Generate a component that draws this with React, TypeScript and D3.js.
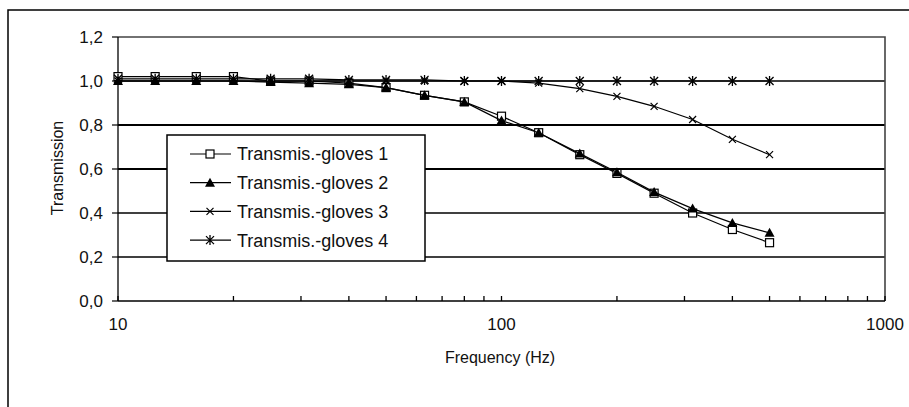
import React from 'react';
import * as d3 from 'd3';

// third-octave centre frequencies (Hz)
const freqs = [10, 12.5, 16, 20, 25, 31.5, 40, 50, 63, 80, 100, 125, 160, 200, 250, 315, 400, 500];

const gloves1 = [1.02, 1.02, 1.02, 1.02, 1.0, 1.0, 0.99, 0.97, 0.935, 0.905, 0.84, 0.765, 0.665, 0.58, 0.49, 0.4, 0.325, 0.265];
const gloves2 = [1.0, 1.0, 1.0, 1.0, 0.995, 0.99, 0.985, 0.97, 0.935, 0.905, 0.82, 0.765, 0.67, 0.585, 0.495, 0.42, 0.355, 0.31];
const gloves3 = [1.0, 1.0, 1.0, 1.0, 1.0, 1.0, 1.0, 1.0, 1.0, 1.0, 1.0, 0.99, 0.965, 0.93, 0.885, 0.825, 0.735, 0.665];
const gloves4 = [1.01, 1.01, 1.01, 1.01, 1.01, 1.01, 1.005, 1.005, 1.005, 1.0, 1.0, 1.0, 1.0, 1.0, 1.0, 1.0, 1.0, 1.0];

const seriesNames = ['Transmis.-gloves 1', 'Transmis.-gloves 2', 'Transmis.-gloves 3', 'Transmis.-gloves 4'];
const yTicks = [0, 0.2, 0.4, 0.6, 0.8, 1.0, 1.2];
const xLabels = [10, 100, 1000];

const W = 909;
const H = 407;
const FONT = '"Liberation Sans", Arial, sans-serif';

const Marker = ({ kind, x, y }: { kind: number; x: number; y: number }) => {
  if (kind === 0) {
    return <rect x={x - 4} y={y - 4} width={8} height={8} fill="#fff" stroke="#000" strokeWidth={1.2} />;
  }
  if (kind === 1) {
    return <path d={`M${x},${y - 5}L${x + 5},${y + 4}L${x - 5},${y + 4}Z`} fill="#000" />;
  }
  if (kind === 2) {
    return <path d={`M${x - 3.5},${y - 3.5}L${x + 3.5},${y + 3.5}M${x + 3.5},${y - 3.5}L${x - 3.5},${y + 3.5}`} stroke="#000" strokeWidth={1.2} />;
  }
  return (
    <path
      d={`M${x - 4},${y - 4}L${x + 4},${y + 4}M${x + 4},${y - 4}L${x - 4},${y + 4}M${x},${y - 5}L${x},${y + 5}`}
      stroke="#000"
      strokeWidth={1.3}
    />
  );
};

const App = () => {
  const left = 118;
  const right = 885;
  const top = 37;
  const bottom = 301;

  const x = d3.scaleLog().domain([10, 1000]).range([left, right]);
  const y = d3.scaleLinear().domain([0, 1.2]).range([bottom, top]);

  const all = [gloves1, gloves2, gloves3, gloves4];
  const line = d3
    .line<number>()
    .x((_, i) => x(freqs[i]))
    .y((d) => y(d));

  // minor ticks of the log axis
  const minor: number[] = [];
  [10, 100].forEach((dec) => {
    for (let k = 2; k <= 9; k++) minor.push(dec * k);
  });

  const legX = 167;
  const legY = 135;
  const rowH = 28.7;

  return (
    <svg width={W} height={H} style={{ position: 'absolute', left: 0, top: 0, background: '#fff' }}>
      {/* outer chart frame */}
      <rect x={8} y={10} width={W + 10} height={H + 10} fill="none" stroke="#000" strokeWidth={1.5} />

      {/* gridlines */}
      {yTicks.slice(1, -1).map((t) => (
        <line
          key={t}
          x1={left}
          x2={right}
          y1={y(t)}
          y2={y(t)}
          stroke="#000"
          strokeWidth={t === 0.6 || t === 0.8 ? 2 : 1.3}
        />
      ))}

      {/* plot area border top/right */}
      <path d={`M${left},${top}H${right}V${bottom}`} fill="none" stroke="#444" strokeWidth={1.6} />

      {/* axes */}
      <line x1={left} x2={left} y1={top} y2={bottom} stroke="#000" strokeWidth={1.3} />
      <line x1={left} x2={right} y1={bottom} y2={bottom} stroke="#000" strokeWidth={1.3} />

      {yTicks.map((t) => (
        <g key={t}>
          <line x1={left - 6} x2={left} y1={y(t)} y2={y(t)} stroke="#000" strokeWidth={1.2} />
          <text
            x={left - 15}
            y={y(t)}
            dy="0.36em"
            textAnchor="end"
            fontFamily={FONT}
            fontSize={17}
            fill="#111"
          >
            {d3.format('.1f')(t).replace('.', ',')}
          </text>
        </g>
      ))}

      {[...xLabels, ...minor].map((t) => (
        <line key={'xt' + t} x1={x(t)} x2={x(t)} y1={bottom} y2={bottom - 5} stroke="#000" strokeWidth={1.3} />
      ))}
      {xLabels.map((t) => (
        <text key={'xl' + t} x={x(t)} y={bottom + 29} textAnchor="middle" fontFamily={FONT} fontSize={17} fill="#111">
          {t}
        </text>
      ))}

      <text x={500} y={363} textAnchor="middle" fontFamily={FONT} fontSize={16} fill="#111">
        Frequency (Hz)
      </text>
      <text
        transform={`translate(63,168) rotate(-90)`}
        textAnchor="middle"
        fontFamily={FONT}
        fontSize={16}
        fill="#111"
      >
        Transmission
      </text>

      {/* series */}
      {all.map((s, si) => (
        <g key={si}>
          <path d={line(s) || ''} fill="none" stroke="#000" strokeWidth={1.2} />
          {s.map((v, i) => (
            <Marker key={i} kind={si} x={x(freqs[i])} y={y(v)} />
          ))}
        </g>
      ))}

      {/* legend */}
      <rect x={legX} y={legY} width={258} height={126} fill="#fff" stroke="#000" strokeWidth={1.5} />
      {seriesNames.map((n, i) => {
        const cy = legY + 19 + i * rowH;
        return (
          <g key={n}>
            <line x1={legX + 23} x2={legX + 64} y1={cy} y2={cy} stroke="#000" strokeWidth={1.2} />
            <Marker kind={i} x={legX + 43} y={cy} />
            <text x={legX + 70} y={cy} dy="0.36em" fontFamily={FONT} fontSize={18} fill="#111">
              {n}
            </text>
          </g>
        );
      })}
    </svg>
  );
};

export default App;
